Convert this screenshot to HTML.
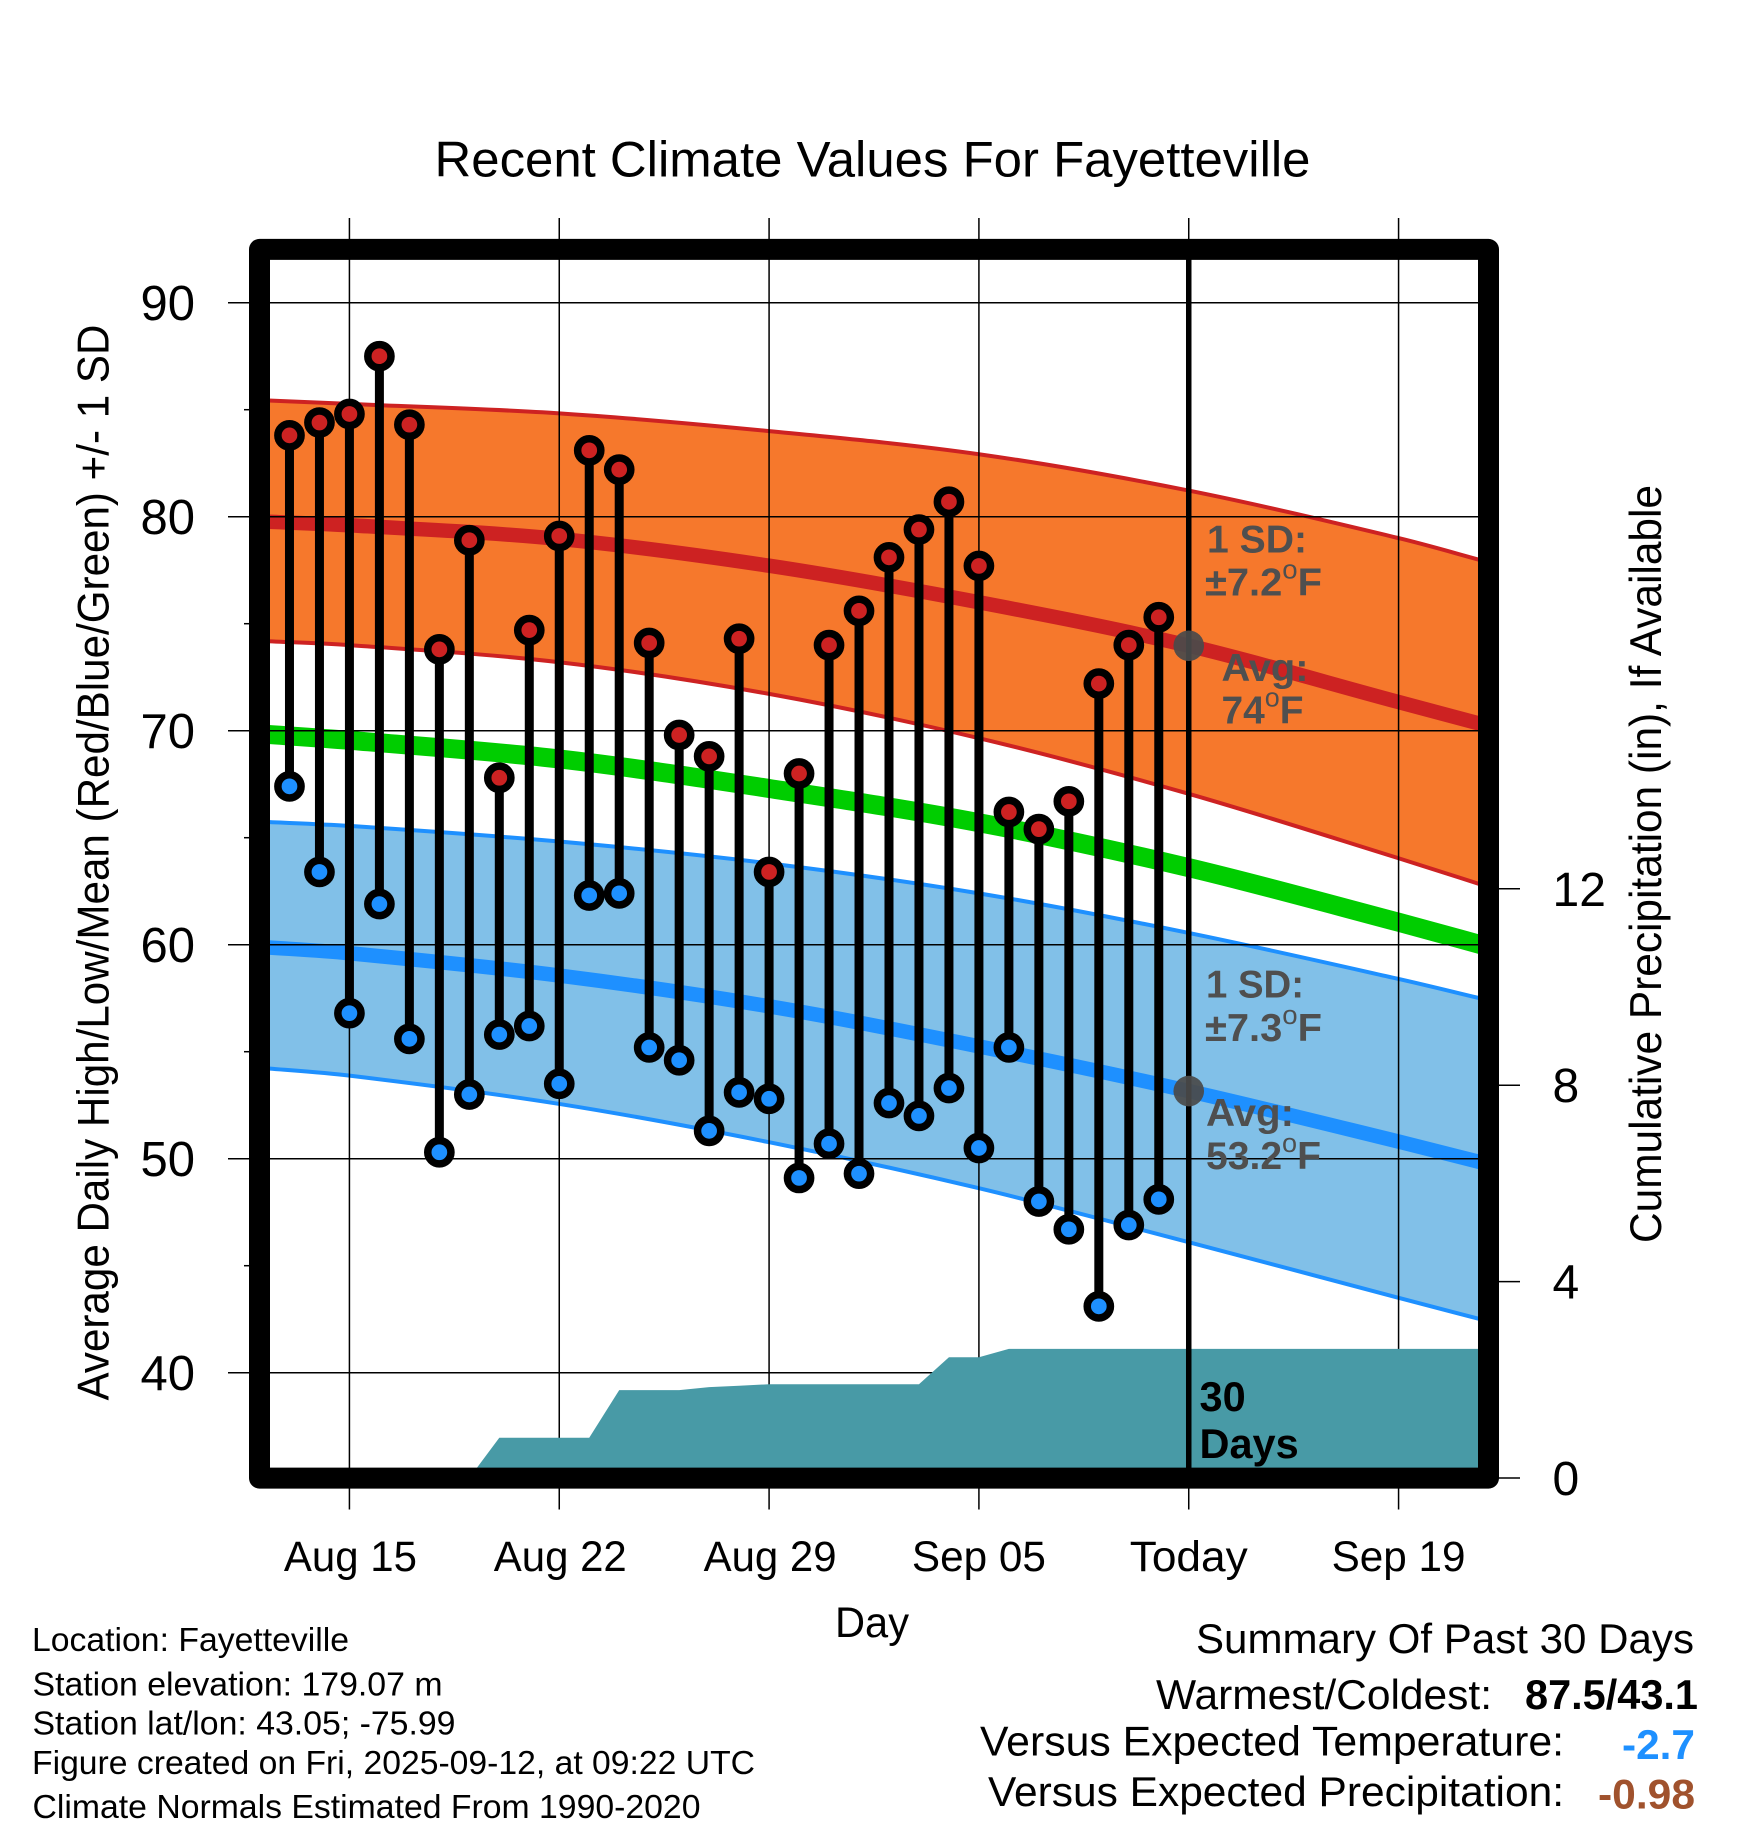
<!DOCTYPE html>
<html lang="en">
<head>
<meta charset="utf-8">
<title>Recent Climate Values For Fayetteville</title>
<style>
html,body{margin:0;padding:0;background:#fff;}
svg{display:block;font-family:"Liberation Sans",sans-serif;}
.note{font-size:33px;fill:#000;}
.sum{font-size:42px;fill:#000;}
.ann{font-size:39px;font-weight:bold;fill:#4f4f4f;}
.deg{font-size:27px;font-weight:normal;}
</style>
</head>
<body>
<svg id="chart" width="1748" height="1828" viewBox="0 0 1748 1828" xmlns="http://www.w3.org/2000/svg">
  <rect width="1748" height="1828" fill="#fff"/>
  <text x="872.5" y="176.5" text-anchor="middle" font-size="50" textLength="876" lengthAdjust="spacingAndGlyphs">Recent Climate Values For Fayetteville</text>
  <g id="marks"></g>

  <text x="872" y="1637" text-anchor="middle" font-size="43" textLength="74" lengthAdjust="spacingAndGlyphs">Day</text>
  <text transform="translate(108.5,862.5) rotate(-90)" text-anchor="middle" font-size="44.5" textLength="1076" lengthAdjust="spacingAndGlyphs">Average Daily High/Low/Mean (Red/Blue/Green) +/- 1 SD</text>
  <text transform="translate(1661,864) rotate(-90)" text-anchor="middle" font-size="44.5" textLength="758" lengthAdjust="spacingAndGlyphs">Cumulative Precipitation (in), If Available</text>

  <g>
    <text class="ann" x="1207" y="552.7" textLength="100" lengthAdjust="spacingAndGlyphs">1 SD:</text>
    <text class="ann" x="1205" y="595.5" textLength="117" lengthAdjust="spacingAndGlyphs">±7.2<tspan class="deg" dy="-17">o</tspan><tspan dy="17">F</tspan></text>
    <text class="ann" x="1221.5" y="681" textLength="87" lengthAdjust="spacingAndGlyphs">Avg:</text>
    <text class="ann" x="1221.5" y="723.5" textLength="82" lengthAdjust="spacingAndGlyphs">74<tspan class="deg" dy="-17">o</tspan><tspan dy="17">F</tspan></text>
  </g>
  <g>
    <text class="ann" x="1206" y="997.3" textLength="98" lengthAdjust="spacingAndGlyphs">1 SD:</text>
    <text class="ann" x="1205" y="1041" textLength="117" lengthAdjust="spacingAndGlyphs">±7.3<tspan class="deg" dy="-17">o</tspan><tspan dy="17">F</tspan></text>
    <text class="ann" x="1206" y="1126" textLength="88" lengthAdjust="spacingAndGlyphs">Avg:</text>
    <text class="ann" x="1206" y="1169" textLength="115" lengthAdjust="spacingAndGlyphs">53.2<tspan class="deg" dy="-17">o</tspan><tspan dy="17">F</tspan></text>
  </g>
  <text x="1199.5" y="1411" font-size="41.5" font-weight="bold">30</text>
  <text x="1199.5" y="1458" font-size="41.5" font-weight="bold">Days</text>

  <g>
    <text class="note" x="32" y="1651" textLength="317" lengthAdjust="spacingAndGlyphs">Location: Fayetteville</text>
    <text class="note" x="32.5" y="1695.6" textLength="410" lengthAdjust="spacingAndGlyphs">Station elevation: 179.07 m</text>
    <text class="note" x="32.5" y="1734.7" textLength="423" lengthAdjust="spacingAndGlyphs">Station lat/lon: 43.05; -75.99</text>
    <text class="note" x="32" y="1774" textLength="723" lengthAdjust="spacingAndGlyphs">Figure created on Fri, 2025-09-12, at 09:22 UTC</text>
    <text class="note" x="32.5" y="1818" textLength="668" lengthAdjust="spacingAndGlyphs">Climate Normals Estimated From 1990-2020</text>
  </g>

  <g>
    <text class="sum" x="1196" y="1653" textLength="498" lengthAdjust="spacingAndGlyphs">Summary Of Past 30 Days</text>
    <text class="sum" x="1156" y="1709" textLength="336" lengthAdjust="spacingAndGlyphs">Warmest/Coldest:</text>
    <text class="sum" x="1525" y="1709" font-weight="bold" textLength="173" lengthAdjust="spacingAndGlyphs">87.5/43.1</text>
    <text class="sum" x="980" y="1755.5" textLength="584" lengthAdjust="spacingAndGlyphs">Versus Expected Temperature:</text>
    <text class="sum" x="1622" y="1759" font-weight="bold" textLength="73" lengthAdjust="spacingAndGlyphs" style="fill:#1e90ff">-2.7</text>
    <text class="sum" x="988" y="1806" textLength="576" lengthAdjust="spacingAndGlyphs">Versus Expected Precipitation:</text>
    <text class="sum" x="1598" y="1808.4" font-weight="bold" textLength="97" lengthAdjust="spacingAndGlyphs" style="fill:#a0522d">-0.98</text>
  </g>
</svg>
<script>
// Days are counted from Aug 12.
const firstObservedDay = 1;
const todayDay = 31;
const highs = [83.8,84.4,84.8,87.5,84.3,73.8,78.9,67.8,74.7,79.1,83.1,82.2,74.1,69.8,68.8,74.3,63.4,68.0,74.0,75.6,78.1,79.4,80.7,77.7,66.2,65.4,66.7,72.2,74.0,75.3];
const lows = [67.4,63.4,56.8,61.9,55.6,50.3,53.0,55.8,56.2,53.5,62.3,62.4,55.2,54.6,51.3,53.1,52.8,49.1,50.7,49.3,52.6,52.0,53.3,50.5,55.2,48.0,46.7,43.1,46.9,48.1];
const precipTotals = [0,0,0,0,0,0,0,0,0.82,0.82,0.82,0.82,1.79,1.79,1.79,1.85,1.88,1.91,1.91,1.91,1.91,1.91,1.91,2.46,2.46,2.63,2.63,2.63,2.63,2.63,2.63];
const normalDays = [0,3,10,17,24,31,38,41];
const highUpper = [85.45,85.27,84.83,84.0,82.92,81.22,79.0,77.87];
const highMean = [79.78,79.6,78.96,77.71,76.0,73.97,71.34,70.22];
const highLower = [74.2,74.0,73.2,71.72,69.65,67.05,64.04,62.7];
const meanNormal = [69.85,69.55,68.68,67.3,65.7,63.6,61.05,59.9];
const lowUpper = [65.75,65.55,64.82,63.8,62.4,60.55,58.4,57.4];
const lowMean = [59.9,59.6,58.56,57.12,55.25,53.16,50.8,49.74];
const lowLower = [54.25,53.88,52.56,50.77,48.62,46.1,43.5,42.4];
const xTickDays = [3,10,17,24,31,38];
const xTickLabels = ['Aug 15','Aug 22','Aug 29','Sep 05','Today','Sep 19'];
const yMajorTicks = [90,80,70,60,50,40];
const yMinorTicks = [85,75,65,55,45];
const precipTicks = [0,4,8,12];
const lastDay = 41;

const xAxis = d => 259.5 + d * (1488.5 - 259.5) / lastDay;
const yAxis = t => 302.7 + (90 - t) * 21.4;
const precipAxis = p => 1478 - p * 49.1;

const NS = 'http://www.w3.org/2000/svg';
const marks = document.getElementById('marks');
function make(tag, attrs, parent) {
  const el = document.createElementNS(NS, tag);
  for (const k in attrs) el.setAttribute(k, attrs[k]);
  (parent || marks).appendChild(el);
  return el;
}
// Smooth curve through the scaled data points (returns path segments after the first point).
function curve(days, vals) {
  const X = days.map(xAxis), Y = vals.map(yAxis), n = X.length;
  const slope = i => {
    const a = Math.max(i - 1, 0), b = Math.min(i + 1, n - 1);
    return (Y[b] - Y[a]) / (X[b] - X[a]);
  };
  let s = '';
  for (let i = 0; i < n - 1; i++) {
    const dx = X[i + 1] - X[i];
    s += ' C' + (X[i] + dx / 3).toFixed(2) + ' ' + (Y[i] + slope(i) * dx / 3).toFixed(2) + ' ' +
      (X[i + 1] - dx / 3).toFixed(2) + ' ' + (Y[i + 1] - slope(i + 1) * dx / 3).toFixed(2) + ' ' +
      X[i + 1].toFixed(2) + ' ' + Y[i + 1].toFixed(2);
  }
  return s;
}
const linePath = (days, vals) => 'M' + xAxis(days[0]).toFixed(2) + ' ' + yAxis(vals[0]).toFixed(2) + curve(days, vals);
function bandPath(days, upper, lower) {
  const rd = days.slice().reverse(), rl = lower.slice().reverse();
  return linePath(days, upper) + ' L' + xAxis(rd[0]).toFixed(2) + ' ' + yAxis(rl[0]).toFixed(2) + curve(rd, rl) + ' Z';
}

const clip = make('clipPath', {id: 'plot-clip'});


const clipRect = make('rect', {x: 259.5, y: 249.5, width: 1229, height: 1229}, clip);



const plot = make('g', {'clip-path': 'url(#plot-clip)'});



// Bands
const highBand = make('path', {d: bandPath(normalDays, highUpper, highLower), fill: '#f6782c'}, plot);


const lowBand = make('path', {d: bandPath(normalDays, lowUpper, lowLower), fill: '#81c0e8'}, plot);



// Normal lines
const highUpperLine = make('path', {d: linePath(normalDays, highUpper), fill: 'none', stroke: '#cd2222', 'stroke-width': 4}, plot);


const highLowerLine = make('path', {d: linePath(normalDays, highLower), fill: 'none', stroke: '#cd2222', 'stroke-width': 4}, plot);


const highMeanLine = make('path', {d: linePath(normalDays, highMean), fill: 'none', stroke: '#cd2222', 'stroke-width': 14.5}, plot);


const meanLine = make('path', {d: linePath(normalDays, meanNormal), fill: 'none', stroke: '#00cd00', 'stroke-width': 19}, plot);


const lowUpperLine = make('path', {d: linePath(normalDays, lowUpper), fill: 'none', stroke: '#1e90ff', 'stroke-width': 4}, plot);


const lowLowerLine = make('path', {d: linePath(normalDays, lowLower), fill: 'none', stroke: '#1e90ff', 'stroke-width': 4}, plot);


const lowMeanLine = make('path', {d: linePath(normalDays, lowMean), fill: 'none', stroke: '#1e90ff', 'stroke-width': 14.5}, plot);



// Grid and ticks
xTickDays.forEach((d, i) => {
  const g = make('line', {x1: xAxis(d), x2: xAxis(d), y1: 218, y2: 1509.5, stroke: '#000', 'stroke-width': 1.5});
  
  
  const label = xTickLabels[i];
  const isAug = label.indexOf('Aug') === 0;
  const t = make('text', {x: xAxis(d) + (isAug ? 1 : 0), y: 1571, 'text-anchor': 'middle', 'font-size': 43, textLength: label === 'Today' ? 118 : (isAug ? 133 : 134), lengthAdjust: 'spacingAndGlyphs'});
  
  
  t.textContent = label;
});
yMajorTicks.forEach(v => {
  const g = make('line', {x1: 228, x2: 1478, y1: yAxis(v), y2: yAxis(v), stroke: '#000', 'stroke-width': 1.5});
  
  
  const t = make('text', {x: 195, y: yAxis(v) + 17.5, 'text-anchor': 'end', 'font-size': 49});
  
  
  t.textContent = v;
});
yMinorTicks.forEach(v => {
  const g = make('line', {x1: 244, x2: 250, y1: yAxis(v), y2: yAxis(v), stroke: '#000', 'stroke-width': 1.5});
  
  
});
precipTicks.forEach(v => {
  const g = make('line', {x1: 1495, x2: 1520, y1: precipAxis(v), y2: precipAxis(v), stroke: '#000', 'stroke-width': 1.5});
  
  
  const t = make('text', {x: 1552.5, y: precipAxis(v) + 17, 'font-size': 48});
  
  
  t.textContent = v;
});

// Cumulative precipitation
const plot2 = make('g', {'clip-path': 'url(#plot-clip)'});


const precipPts = precipTotals.map((p, i) => xAxis(i).toFixed(2) + ',' + precipAxis(p).toFixed(2));
precipPts.push(xAxis(lastDay) + ',' + precipAxis(precipTotals[precipTotals.length - 1]));
precipPts.push(xAxis(lastDay) + ',' + precipAxis(0));
precipPts.push(xAxis(0) + ',' + precipAxis(0));
const precip = make('polygon', {points: precipPts.join(' '), fill: '#489aa6'}, plot2);



// Today marker
const todayLine = make('line', {x1: xAxis(todayDay), x2: xAxis(todayDay), y1: 250, y2: 1478, stroke: '#000', 'stroke-width': 5.5}, plot2);



// Daily observations
highs.forEach((h, i) => {
  const d = firstObservedDay + i;
  const stem = make('line', {x1: xAxis(d), x2: xAxis(d), y1: yAxis(h), y2: yAxis(lows[i]), stroke: '#000', 'stroke-width': 9}, plot2);
  
  
  const hi = make('circle', {cx: xAxis(d), cy: yAxis(h), r: 11.6, fill: '#cd2222', stroke: '#000', 'stroke-width': 7.5}, plot2);
  
  
  const lo = make('circle', {cx: xAxis(d), cy: yAxis(lows[i]), r: 11.6, fill: '#1e90ff', stroke: '#000', 'stroke-width': 7.5}, plot2);
  
  
});

// Today's normal dots
const todayIdx = normalDays.indexOf(todayDay);
const highDot = make('circle', {cx: xAxis(todayDay), cy: yAxis(highMean[todayIdx]), r: 15.3, fill: '#4a4a4a', 'fill-opacity': 0.93}, plot2);


const lowDot = make('circle', {cx: xAxis(todayDay), cy: yAxis(lowMean[todayIdx]), r: 15.3, fill: '#4a4a4a', 'fill-opacity': 0.93}, plot2);



// Frame
const frame = make('rect', {x: 259.5, y: 249.4, width: 1229, height: 1228.7, fill: 'none', stroke: '#000', 'stroke-width': 21, 'stroke-linejoin': 'round'});


</script>
</body>
</html>
